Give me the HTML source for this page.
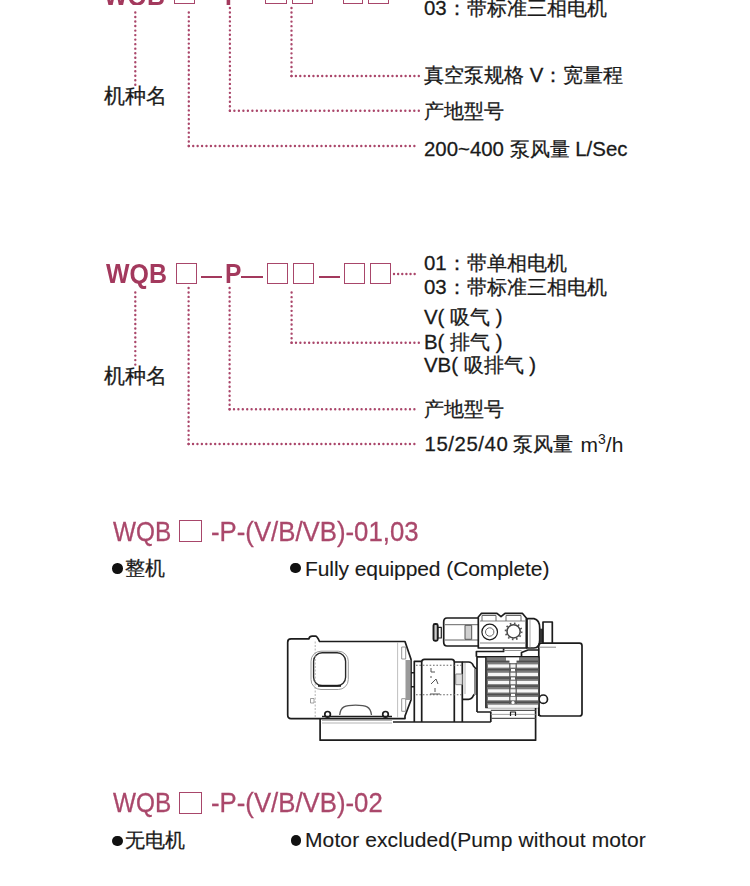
<!DOCTYPE html>
<html><head><meta charset="utf-8">
<style>
html,body{margin:0;padding:0;background:#fff;}
body{width:750px;height:886px;position:relative;overflow:hidden;font-family:"Liberation Sans",sans-serif;color:#1a1a1a;}
.lbl{-webkit-text-stroke:0.28px #1a1a1a;}.en{-webkit-text-stroke:0.12px #1a1a1a;}
.h3{-webkit-text-stroke:0.3px #aa486b;}
.t{position:absolute;white-space:nowrap;line-height:1;}
.lbl{font-size:20.4px;}
.ttl{font-size:27px;font-weight:bold;color:#a3395d;transform-origin:0 0;}
.box{position:absolute;border:1.8px solid #a8466a;box-sizing:border-box;}
.dash{position:absolute;height:2.7px;background:#a3395d;}
.h3{font-size:28px;color:#aa486b;transform-origin:0 0;}
.bul{position:absolute;width:10.5px;height:10.5px;border-radius:50%;background:#111;}
.en{font-size:21px;}
svg{position:absolute;left:0;top:0;}
</style></head>
<body>
<svg width="750" height="886" viewBox="0 0 750 886">
<g stroke="#aa466a" stroke-width="2.4" stroke-dasharray="0 1" stroke-linecap="round" fill="none">
<path d="M135.3 84.8V8" pathLength="17"/>
<path d="M188.8 146V8" pathLength="31"/>
<path d="M229.9 110.7V8" pathLength="23"/>
<path d="M291.5 76V8" pathLength="15"/>
<path d="M188.8 146H418.8" pathLength="52"/>
<path d="M229.9 110.7H418.8" pathLength="42"/>
<path d="M291.5 76H418.8" pathLength="29"/>
<path d="M135.3 364.6V288" pathLength="17"/>
<path d="M188.6 444V288" pathLength="35"/>
<path d="M229.6 409.2V288" pathLength="27"/>
<path d="M291.6 342.8V288" pathLength="12"/>
<path d="M188.6 444H418.8" pathLength="52"/>
<path d="M229.6 409.2H418.8" pathLength="43"/>
<path d="M291.6 342.8H418.8" pathLength="29"/>
<path d="M394 274H418.8" pathLength="6"/>
</g>
</svg>

<!-- section 1 title (cut off) -->
<div style="position:absolute;left:0;top:0;width:750px;height:4.6px;overflow:hidden;">
<div class="t ttl" style="left:103.8px;top:-17.3px;transform:scaleX(0.923);">WQB</div>
<div class="t ttl" style="left:225px;top:-17.3px;transform:scaleX(0.91);">P</div>
</div>
<div class="box" style="left:174px;top:-16px;width:21.3px;height:20.3px;"></div>
<div class="box" style="left:265.3px;top:-16px;width:21.4px;height:20.3px;"></div>
<div class="box" style="left:292px;top:-16px;width:21.3px;height:20.3px;"></div>
<div class="box" style="left:342.7px;top:-16px;width:20.8px;height:20.3px;"></div>
<div class="box" style="left:368px;top:-16px;width:21.3px;height:20.3px;"></div>

<div class="t lbl" style="left:424px;top:-2px;">03：带标准三相电机</div>
<div class="t lbl" style="left:424px;top:65px;">真空泵规格 V：宽量程</div>
<div class="t lbl" style="left:424px;top:101px;">产地型号</div>
<div class="t lbl" style="left:424px;top:139px;">200~400 泵风量 L/Sec</div>
<div class="t lbl" style="left:104px;top:85.5px;font-size:20.5px;">机种名</div>

<!-- section 2 -->
<div class="t ttl" style="left:105.6px;top:261px;transform:scaleX(0.923);">WQB</div>
<div class="box" style="left:175.6px;top:263.2px;width:21px;height:20.4px;"></div>
<div class="dash" style="left:201px;top:275.5px;width:21px;"></div>
<div class="t ttl" style="left:225px;top:261px;transform:scaleX(0.91);">P</div>
<div class="dash" style="left:241.3px;top:275.5px;width:21.4px;"></div>
<div class="box" style="left:266.7px;top:263.2px;width:21.3px;height:20.4px;"></div>
<div class="box" style="left:293.3px;top:263.2px;width:21px;height:20.4px;"></div>
<div class="dash" style="left:318.7px;top:275.5px;width:21.3px;"></div>
<div class="box" style="left:344px;top:263.2px;width:21px;height:20.4px;"></div>
<div class="box" style="left:370px;top:263.2px;width:21px;height:20.4px;"></div>

<div class="t lbl" style="left:424px;top:253px;">01：带单相电机</div>
<div class="t lbl" style="left:424px;top:277px;">03：带标准三相电机</div>
<div class="t lbl" style="left:424px;top:307px;">V( 吸气 )</div>
<div class="t lbl" style="left:424px;top:332px;">B( 排气 )</div>
<div class="t lbl" style="left:424px;top:355px;">VB( 吸排气 )</div>
<div class="t lbl" style="left:424px;top:399px;">产地型号</div>
<div class="t lbl" style="left:424.5px;top:434px;letter-spacing:0.55px;">15/25/40</div><div class="t lbl" style="left:513px;top:434px;">泵风量</div><div class="t" style="left:580.5px;top:433.5px;font-size:21px;">m<span style="font-size:14px;position:relative;top:-8px;">3</span>/h</div>
<div class="t lbl" style="left:104px;top:365.5px;font-size:20.5px;">机种名</div>

<!-- section 3 -->
<div class="t h3" style="left:112.5px;top:518px;transform:scaleX(0.87);">WQB</div>
<div class="box" style="left:179.2px;top:520.2px;width:22.6px;height:22px;border-width:1.9px;"></div>
<div class="t h3" style="left:210.8px;top:518px;transform:scaleX(0.92);">-P-(V/B/VB)-01,03</div>
<div class="bul" style="left:112px;top:563px;"></div>
<div class="t lbl" style="left:125px;top:558px;">整机</div>
<div class="bul" style="left:290.3px;top:562.6px;"></div>
<div class="t en" style="left:305px;top:558.3px;letter-spacing:-0.08px;">Fully equipped (Complete)</div>

<!-- section 4 -->
<div class="t h3" style="left:112.5px;top:788.7px;transform:scaleX(0.87);">WQB</div>
<div class="box" style="left:179.2px;top:792px;width:22.6px;height:22px;border-width:1.9px;"></div>
<div class="t h3" style="left:210.8px;top:788.7px;transform:scaleX(0.92);">-P-(V/B/VB)-02</div>
<div class="bul" style="left:112px;top:835.8px;"></div>
<div class="t lbl" style="left:125px;top:830px;">无电机</div>
<div class="bul" style="left:290.8px;top:835.1px;"></div>
<div class="t en" style="left:305px;top:828.6px;letter-spacing:0.11px;">Motor excluded(Pump without motor</div>

<svg width="750" height="886" viewBox="0 0 750 886" style="filter:blur(0.3px)">
<g fill="none" stroke="#1c1c1c" stroke-width="1.7" stroke-linejoin="round">
<!-- base plate -->
<path d="M320.1 718.8V740.2H535.6V707.5"/>
<path d="M393 722H490.8" />
<!-- motor body -->
<path d="M319.5 641.5H405L411 659.3V700L405 716V718.6H291Q287.7 718.6 287.7 715V642.2Q287.7 638.9 291 638.9H308.8Q309.6 636.2 312.2 636.2H315.4Q317.2 636.2 319.5 641.5Z"/>
<path d="M411 672.7H414.3M411 686.7H414.3" stroke-width="1.6"/>
<rect x="313.6" y="652.7" width="32" height="33.1" rx="8.5" stroke="#2a2a2a" stroke-width="1.4"/><path d="M318 685.8H341" stroke-width="2"/>
<rect x="311" y="651.2" width="37.3" height="38.3" rx="10" stroke="#9a9a9a" stroke-width="1"/>
<path d="M315.2 641.5V718" stroke="#aaa" stroke-width="0.9" stroke-dasharray="2 1.5"/>
<path d="M397.6 642V718" stroke="#b8b8b8" stroke-width="0.9"/>
<rect x="401.7" y="647" width="4" height="12" stroke="#888" stroke-width="0.9"/>
<rect x="401.7" y="698.7" width="4" height="12.6" stroke="#888" stroke-width="0.9"/>
<rect x="405.5" y="660" width="5" height="40" fill="#9a9a9a" stroke="none"/>
<rect x="310.5" y="698.5" width="3.5" height="4.5" stroke="#888" stroke-width="0.8"/>
<!-- motor feet -->
<circle cx="327.6" cy="714.3" r="2.8"/>
<circle cx="385.5" cy="714.3" r="2.8"/>
<path d="M339.7 715C340.5 706.5 345 705.2 355.6 705.2C366 705.2 370.5 706.5 371.5 715" stroke="#555" stroke-width="1.3"/>
<path d="M322 716.5H392" />
<path d="M322 720.3H392" stroke="#999" stroke-width="0.9"/><path d="M322 723H392" stroke="#aaa" stroke-width="0.9"/>
<!-- coupling -->
<path d="M414.3 722V661.3H421.7"/>
<path d="M421.7 722V662Q421.7 659.3 424.5 659.3H451.5Q454.3 659.3 454.3 662V722"/>
<path d="M454.3 662H462.3V722"/>
<path d="M416 665.3H462M416 694.7H462" stroke="#666" stroke-width="1.1" stroke-dasharray="1.6 1.8"/>
<rect x="455.7" y="674" width="6.6" height="10.7" stroke="#777" stroke-width="0.9" fill="#e0e0e0"/>
<path d="M431 668V672H435M431 676V678M431 684L436 679L438 684M435 688V692M430 694H440" stroke="#555" stroke-width="1"/>
<!-- pump flange -->
<path d="M462.3 662H468.5Q472 662 473.5 666L476 669H477"/>
<path d="M462.3 699.3H468.5Q472 699.3 473.5 695.3L476 692.7H477"/>
<path d="M465 663V694" stroke="#aaa" stroke-width="0.9"/>
<rect x="474" y="669" width="3" height="26" fill="#8a8a8a" stroke="none"/>
<!-- pump housing -->
<path d="M477 712V656.8H538.8V716"/>
<path d="M477 712H490.8V722"/>
<path d="M486 657V707.5H538.8"/>
<!-- platform under top motor -->
<path d="M476.4 656.8V651.5H503.6V648.5"/>
<path d="M521.5 656.8V652.5L528 650H538.8"/>
<path d="M503.6 650.5H521.5" stroke="#888" stroke-width="0.9"/>
<!-- pump foot -->
<path d="M490.8 710.4H535.6M490.8 718.4H535.6" stroke="#555" stroke-width="1.1"/>
<path d="M490.8 714.4H535.6" stroke="#999" stroke-width="0.9"/>
<path d="M510.5 716V712H515.5V716" stroke-width="1.2"/>
<!-- right box -->
<rect x="538.8" y="643.2" width="43.2" height="72.8" rx="2.5"/>
<path d="M539 647.2H556" stroke="#888" stroke-width="1"/>
<circle cx="543.3" cy="699.2" r="4.2" fill="#fff"/>
<!-- top small motor -->
<rect x="433.5" y="624" width="4.2" height="16.7" rx="1.5" stroke-width="1.9" fill="#ccc"/>
<rect x="437.7" y="627.3" width="3.6" height="10.7" stroke-width="1.2"/>
<path d="M478.3 618H447Q443.7 618 443.7 622V642Q443.7 646 447 646H478.3"/>
<path d="M445 624.7H478M445 640H478" stroke="#666" stroke-width="1"/>
<rect x="465" y="625.3" width="6.7" height="14" fill="#d0d0d0" stroke="#555" stroke-width="1"/>
<path d="M478.3 648V617L481.5 613.3H497L501 616.7L505 613.3H522.3L526.3 618V648Z"/>
<path d="M480 621H525M480 643H525" stroke="#777" stroke-width="0.9"/><path d="M482 621V615.5H496V621M506 621V615.5H521V621" stroke="#666" stroke-width="1"/>
<circle cx="489.7" cy="632" r="7.8" stroke-width="1.2"/>
<circle cx="489.7" cy="632" r="4.2" stroke="#666" stroke-width="1"/>
<circle cx="513.6" cy="631.4" r="8" stroke="#555" stroke-width="1.8" stroke-dasharray="1.6 2.6"/><circle cx="513.6" cy="631.4" r="6.6" fill="#fff" stroke="#444" stroke-width="1.5"/>
<path d="M527 618.7H534Q539.7 620 539.7 628V640Q539.7 648 534 648H527Z"/>
<path d="M530 619.5V647.5" stroke="#999" stroke-width="0.9"/>
<rect x="539.7" y="628.7" width="3.3" height="14" fill="#333" stroke="none"/>
<path d="M543 643.3V622H552.3V643.3"/>
</g>
<!-- fins -->
<rect x="486.5" y="657.5" width="52" height="50" fill="#7c7c7c"/>
<g fill="#4e4e4e">
<rect x="486.5" y="660.6" width="52" height="1.6"/>
<rect x="486.5" y="668.8" width="52" height="1.6"/>
<rect x="486.5" y="677.2" width="52" height="1.6"/>
<rect x="486.5" y="685.3" width="52" height="1.6"/>
<rect x="486.5" y="693.7" width="52" height="1.6"/>
<rect x="486.5" y="701.4" width="52" height="1.6"/>
</g><g fill="#f6f6f6">
<rect x="488" y="664.4" width="50" height="3.2"/>
<rect x="488" y="672.8" width="50" height="3.2"/>
<rect x="488" y="680.9" width="50" height="3.2"/>
<rect x="488" y="689.3" width="50" height="3.2"/>
<rect x="488" y="697.0" width="50" height="3.2"/>
<rect x="488" y="704.7" width="50" height="3.2"/>
</g>
<path d="M509.8 663V704M516.2 663V704" stroke="#555" stroke-width="1.2"/>
<g fill="#fff">
<path d="M506 657.5H519V660.5H516.5V663H509.5V660.5H506Z"/>
<rect x="511" y="669.0" width="4" height="2.2"/>
<rect x="511" y="677.4" width="4" height="2.2"/>
<rect x="511" y="685.5" width="4" height="2.2"/>
<rect x="511" y="693.9" width="4" height="2.2"/>
<circle cx="513" cy="702.5" r="1.6"/>
</g>
<path d="M486.5 657V707.5" stroke="#444" stroke-width="1.2"/>
</svg>

</body></html>
